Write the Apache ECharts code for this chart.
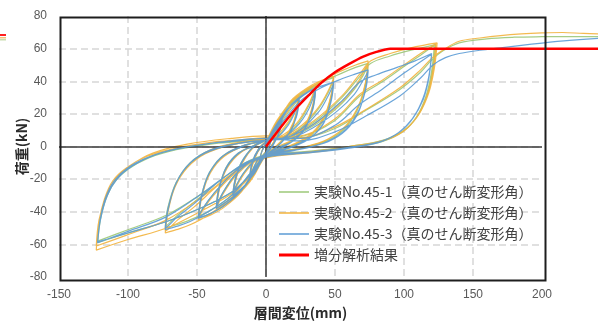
<!DOCTYPE html>
<html>
<head>
<meta charset="utf-8">
<script src="https://cdn.jsdelivr.net/npm/echarts@6/dist/echarts.min.js"></script>
<style>
  html, body { margin: 0; padding: 0; background: #ffffff; }
  #chart { width: 598px; height: 324px; }
</style>
</head>
<body>
<div id="chart"></div>
<script>
// Series names (legend order)
const seriesNames = [
  '実験No.45-1（真のせん断変形角）',
  '実験No.45-2（真のせん断変形角）',
  '実験No.45-3（真のせん断変形角）',
  '増分解析結果'
];

// Load–displacement path of specimen No.45-1 : [displacement (mm), load (kN)]
const spec1Path = [
  [0,0],[2,4],[5,8],[3,2],[0,-3],[-2,-5],[-5,-9],[-3,-3],[0,2],
  [4,9],[8,15],[12,20],[10,11],[6,3],[0,-4],[-4,-10],[-8,-16],[-12,-21],[-10,-11],[-6,-3],[0,3],
  [5,6],[10,14],[12,20],[10,10],[5,1],[0,-4],[-5,-7],[-10,-15],[-12,-21],[-10,-10],[-5,-1],[0,3],
  [5,9],[12,20],[18,26],[24,30],[22,20],[18,10],[10,2],[0,-5],[-5,-11],[-12,-21],[-18,-26],[-24,-30],[-22,-20],[-18,-10],[-10,-1],[0,4],
  [8,6],[16,14],[21,22],[24,29],[22,19],[17,9],[9,1],[0,-5],[-8,-8],[-16,-16],[-21,-23],[-24,-29],[-22,-19],[-17,-9],[-9,0],[0,4],
  [6,10],[14,22],[24,31],[36,37],[34,25],[29,13],[20,4],[10,0],[0,-5],[-6,-12],[-14,-23],[-24,-31],[-36,-38],[-34,-26],[-29,-13],[-20,-4],[-10,0],[0,4],
  [10,5],[22,13],[31,25],[36,36],[34,24],[28,12],[18,3],[0,-5],[-10,-8],[-22,-17],[-31,-28],[-36,-37],[-34,-25],[-28,-12],[-18,-3],[0,4],
  [8,13],[18,27],[30,35],[40,39.5],[49,42],[47,30],[42,17],[33,7],[20,1],[0,-5],[-8,-14],[-18,-27],[-30,-36],[-40,-41],[-49,-44],[-47,-32],[-42,-18],[-33,-7],[-20,-1],[0,4],
  [12,5],[26,12],[38,23],[45,33],[49,41],[47,29],[41,15],[30,5],[15,-1],[0,-5],[-12,-9],[-26,-18],[-38,-29],[-45,-37],[-49,-43],[-47,-31],[-41,-16],[-30,-5],[-15,1],[0,4],
  [10,14],[25,30],[40,39],[55,45],[65,48.5],[74,51],[72,38],[67,24],[58,12],[45,4],[25,-1],[0,-5],[-10,-15],[-25,-30],[-40,-39],[-55,-45],[-65,-48],[-73,-50],[-71,-38],[-66,-24],[-57,-12],[-44,-4],[-25,1],[0,4],
  [15,5],[35,13],[52,24],[64,35],[70,43],[74,50],[72,37],[66,22],[56,10],[40,2],[20,-2],[0,-5],[-15,-10],[-35,-22],[-52,-34],[-64,-42],[-70,-47],[-73,-49],[-71,-37],[-65,-22],[-55,-10],[-40,-2],[-20,2],[0,4],
  [15,6],[35,15],[55,30],[68,43],[76,51],[90,55.5],[105,59],[123,62.5],[121,47],[117,32],[110,19],[100,10],[85,4],[60,0],[30,-3],[0,-6],
  [-12,-18],[-25,-28],[-48,-38],[-72,-46],[-100,-53],[-122,-59],[-120,-45],[-116,-32],[-110,-22],[-100,-14],[-85,-7],[-65,-2],[-40,1.5],[-20,3],[0,4.5],
  [25,6],[50,16],[68,31],[84,39.5],[100,49],[112,56],[122,62],[120,46],[116,31],[109,18],[99,9],[84,3],[60,-0.5],[30,-3.5],[0,-6.5],
  [-20,-13],[-45,-28],[-72,-42],[-100,-51],[-122,-58],[-120,-44],[-115,-30],[-108,-20],[-97,-12],[-80,-5],[-55,0],[-25,3],[0,4.5],
  [25,5],[50,11],[73,22.5],[97,35],[112,45.5],[120,53],[128,58.5],[140,63.5],[160,66],[180,67],[200,67.3],[220,67.4],[245,67.3]
];

// Load–displacement path of specimen No.45-2
const spec2Path = [
  [0,0],[2,5],[5,9],[3,2.5],[0,-3],[-2,-5.5],[-5,-9.5],[-3,-3],[0,2.5],
  [4,10],[8,16],[12,21],[10,12],[6,3.5],[0,-4.5],[-4,-10.5],[-8,-17],[-12,-22],[-10,-12],[-6,-3.5],[0,3.5],
  [5,7],[10,15],[12,21],[10,11],[5,1.5],[0,-4.5],[-5,-7.5],[-10,-16],[-12,-22],[-10,-11],[-5,-1],[0,3.5],
  [5,10],[12,21],[18,27],[24,31],[22,21],[18,11],[10,2.5],[0,-5.5],[-5,-12],[-12,-22],[-18,-27],[-24,-31],[-22,-21],[-18,-11],[-10,-1.5],[0,4.5],
  [8,7],[16,15],[21,23],[24,30],[22,20],[17,10],[9,1.5],[0,-5.5],[-8,-9],[-16,-17],[-21,-24],[-24,-30],[-22,-20],[-17,-10],[-9,0],[0,4.5],
  [6,11],[14,23],[24,32],[36,38],[34,26],[29,14],[20,4.5],[10,0.5],[0,-5.5],[-6,-13],[-14,-24],[-24,-32],[-36,-39],[-34,-27],[-29,-14],[-20,-4.5],[-10,0],[0,4.5],
  [10,6],[22,14],[31,26],[36,37],[34,25],[28,13],[18,3.5],[0,-5.5],[-10,-9],[-22,-18],[-31,-29],[-36,-38],[-34,-26],[-28,-13],[-18,-3.5],[0,4.5],
  [8,14],[18,28],[30,36],[40,40.5],[49,43],[47,31],[42,18],[33,8],[20,1.5],[0,-5.5],[-8,-15],[-18,-28],[-30,-37],[-40,-42],[-49,-45],[-47,-33],[-42,-19],[-33,-8],[-20,-1],[0,4.5],
  [12,6],[26,13],[38,24],[45,34],[49,42],[47,30],[41,16],[30,5.5],[15,-0.5],[0,-5.5],[-12,-10],[-26,-19],[-38,-30],[-45,-38],[-49,-44],[-47,-32],[-41,-17],[-30,-5.5],[-15,1],[0,4.5],
  [10,15],[25,31],[40,40],[55,46.5],[65,50],[74,52.5],[72,39],[67,25],[58,13],[45,4.5],[25,-1],[0,-5.5],[-10,-16],[-25,-31],[-40,-41],[-55,-48],[-65,-51],[-73,-53],[-71,-40],[-66,-25],[-57,-13],[-44,-4.5],[-25,1],[0,4.5],
  [15,5.5],[35,14],[52,25],[64,36],[70,44.5],[74,51.5],[72,38],[66,23],[56,11],[40,2.5],[20,-2],[0,-5.5],[-15,-11],[-35,-24],[-52,-37],[-64,-45],[-70,-50],[-73,-52],[-71,-39],[-65,-23],[-55,-11],[-40,-2],[-20,2.5],[0,5],
  [15,6.5],[35,16],[55,31],[68,44.5],[76,52.5],[90,57],[105,60.5],[124,63.5],[122,48],[118,33],[111,20],[101,10.5],[86,4],[60,0],[30,-3.5],[0,-6.5],
  [-12,-19],[-25,-29],[-48,-40],[-72,-50],[-100,-57],[-123,-63.5],[-121,-46],[-117,-32],[-111,-21],[-101,-13],[-86,-6],[-65,-1],[-40,2.5],[-20,4],[0,5.5],
  [25,6.5],[50,17],[68,32],[84,40.5],[100,50],[112,57],[123,63],[121,47],[117,32],[110,19],[100,9.5],[85,3.5],[60,-0.5],[30,-4],[0,-7],
  [-20,-14],[-45,-30],[-72,-45],[-100,-54],[-123,-61],[-121,-45],[-116,-31],[-109,-20],[-98,-11.5],[-82,-4],[-57,1.5],[-25,5],[0,6.5],
  [25,5.5],[50,12],[73,23],[97,36],[112,47],[120,54],[128,59],[140,64.5],[155,66.5],[170,68],[185,69],[200,69.6],[215,69.9],[230,69.3],[245,69]
];

// Load–displacement path of specimen No.45-3
const spec3Path = [
  [0,0],[2,4],[5,8],[3,1.5],[0,-3.5],[-2,-5.5],[-5,-9],[-3,-3],[0,2],
  [4,8.5],[8,14],[12,19],[10,10],[6,2.5],[0,-4.5],[-4,-10],[-8,-16],[-12,-20],[-10,-10.5],[-6,-3],[0,3],
  [5,5.5],[10,13],[12,19],[10,9.5],[5,0.5],[0,-4.5],[-5,-7],[-10,-15],[-12,-20],[-10,-9.5],[-5,-1],[0,3],
  [5,8.5],[12,19],[18,25],[24,29],[22,19],[18,9.5],[10,1.5],[0,-5.5],[-5,-11],[-12,-20.5],[-18,-26],[-24,-30],[-22,-20],[-18,-10],[-10,-1],[0,4],
  [8,5.5],[16,13],[21,21],[24,28],[22,18],[17,8.5],[9,0.5],[0,-5.5],[-8,-8.5],[-16,-16],[-21,-23],[-24,-29],[-22,-19],[-17,-9],[-9,0],[0,4],
  [6,9.5],[14,21],[24,30],[36,36],[34,24],[29,12],[20,3.5],[10,-0.5],[0,-5.5],[-6,-12],[-14,-23],[-24,-31],[-36,-38],[-34,-26],[-29,-13],[-20,-4],[-10,0],[0,4],
  [10,4.5],[22,12],[31,23],[36,35],[34,23],[28,11],[18,2.5],[0,-5.5],[-10,-8.5],[-22,-17],[-31,-28],[-36,-37],[-34,-25],[-28,-12],[-18,-3],[0,4],
  [8,12],[18,25],[30,33],[40,37],[49,39.5],[47,28],[42,15],[33,6],[20,0.5],[0,-5.5],[-8,-14],[-18,-27],[-30,-36],[-40,-41],[-49,-44],[-47,-32],[-42,-18],[-33,-7],[-20,-1],[0,4],
  [12,4.5],[26,11],[38,21],[45,31],[49,38.5],[47,27],[41,13],[30,4],[15,-1.5],[0,-5.5],[-12,-9],[-26,-18],[-38,-29],[-45,-37],[-49,-43],[-47,-31],[-41,-16],[-30,-5],[-15,1],[0,4],
  [10,13],[25,28],[40,36],[55,41.5],[65,44.5],[74,47],[72,35],[67,21],[58,10],[45,3],[25,-1.5],[0,-5.5],[-10,-15],[-25,-30],[-40,-39],[-55,-46],[-65,-49],[-73,-51],[-71,-39],[-66,-24],[-57,-12],[-44,-4],[-25,1],[0,4],
  [15,4.5],[35,12],[52,22],[64,32],[70,40],[74,46],[72,34],[66,20],[56,9],[40,1.5],[20,-2.5],[0,-5.5],[-15,-10],[-35,-22],[-52,-35],[-64,-43],[-70,-48],[-73,-50],[-71,-38],[-65,-22],[-55,-10],[-40,-2],[-20,2],[0,4],
  [15,5.5],[35,14],[55,28],[68,39.5],[80,44],[95,48.5],[108,52.5],[120,57],[118,43],[114,30],[107,18],[97,9],[83,3],[60,-0.5],[30,-3.5],[0,-6],
  [-12,-18],[-25,-28],[-48,-38],[-72,-46],[-100,-53],[-122,-58.5],[-120,-44],[-116,-31],[-110,-21],[-100,-13],[-85,-6.5],[-65,-1.5],[-40,2],[-20,3.5],[0,5],
  [25,5],[50,13],[68,26],[84,35],[100,45],[112,52],[120,56.5],[118,42],[114,29],[106,17],[96,8.5],[82,2.5],[60,-1],[30,-4],[0,-6.5],
  [-20,-13],[-45,-28],[-72,-43],[-100,-52],[-122,-59],[-120,-45],[-115,-30],[-108,-20],[-97,-12],[-80,-5],[-55,0],[-25,3.5],[0,5],
  [25,3.5],[50,9],[73,19],[97,31],[112,42],[121,50],[130,54.5],[140,57],[155,59],[170,60.5],[185,62],[200,63.4],[220,65],[245,66.6]
];

// Incremental analysis result (skeleton curve)
const analysisX = [0, 5, 10, 16, 23, 31, 40, 50, 60, 70, 80, 90, 245];
const analysisY = [0, 5.5, 11, 17.5, 24.5, 31.5, 39, 45.5, 50.5, 55, 58, 60, 60];

// Axis ranges and tick spacing
const xRange = [-150, 200];
const xDataMax = 240;
const xStep = 50;
const yRange = [-80, 80];
const yStep = 20;

const seriesColors = ['#9cc878', '#f2b33d', '#5b9bd5', '#ff0000'];

const chart = echarts.init(document.getElementById('chart'), null, { renderer: 'canvas' });

// pixel layout of the framed plot area
const plotLeft = 59, plotTop = 16, plotWidth = 483, plotHeight = 261;
const dataWidth = plotWidth * (xDataMax - xRange[0]) / (xRange[1] - xRange[0]);

const analysisData = analysisX.map((x, i) => [x, analysisY[i]]);
const specimenPaths = [spec1Path, spec2Path, spec3Path];

const gridLineStyle = { color: '#d6d6d6', width: 1.5, type: [7, 4] };
const tickFont = { color: '#595959', fontSize: 12, fontFamily: 'Liberation Sans, Arial, sans-serif' };
const nameFont = { color: '#2b2b2b', fontSize: 14, fontWeight: 'bold', fontFamily: 'Noto Sans CJK JP, sans-serif' };

// legend line icons: thin for test data, thicker for the analysis line
const thinIcon = 'path://M0,0 L60,0 L60,3 L0,3 Z';
const thickIcon = 'path://M0,0 L30,0 L30,3 L0,3 Z';

const option = {
  animation: false,
  backgroundColor: '#ffffff',
  grid: [
    {
      left: plotLeft, top: plotTop, width: plotWidth, height: plotHeight,
      containLabel: false, outerBoundsMode: 'none',
      show: false
    },
    {
      left: plotLeft, top: plotTop, width: dataWidth, height: plotHeight,
      containLabel: false, outerBoundsMode: 'none',
      show: false
    }
  ],
  xAxis: [
    {
      gridIndex: 0, type: 'value', min: xRange[0], max: xRange[1], interval: xStep,
      name: '層間変位(mm)', nameLocation: 'middle', nameGap: 29, nameMoveOverlap: false,
      nameTextStyle: nameFont,
      axisLine: { show: false }, axisTick: { show: false },
      axisLabel: Object.assign({ margin: 12 }, tickFont),
      splitLine: { show: true, showMinLine: false, showMaxLine: false, lineStyle: gridLineStyle }
    },
    {
      gridIndex: 1, type: 'value', min: xRange[0], max: xDataMax, show: false,
      splitLine: { show: false }
    }
  ],
  yAxis: [
    {
      gridIndex: 0, type: 'value', min: yRange[0], max: yRange[1], interval: yStep,
      name: '荷重(kN)', nameLocation: 'middle', nameGap: 30, nameRotate: 90, nameMoveOverlap: false,
      nameTextStyle: nameFont,
      axisLine: { show: false }, axisTick: { show: false },
      axisLabel: Object.assign({ margin: 12 }, tickFont),
      splitLine: { show: true, showMinLine: false, showMaxLine: false, lineStyle: gridLineStyle }
    },
    {
      gridIndex: 1, type: 'value', min: yRange[0], max: yRange[1], show: false,
      splitLine: { show: false }
    }
  ],
  legend: {
    data: seriesNames.map((name, i) => ({ name: name, icon: i === 3 ? thickIcon : thinIcon })),
    orient: 'vertical',
    left: 274, top: 180,
    itemWidth: 30, itemHeight: 14, itemGap: 7,
    textStyle: { color: '#404040', fontSize: 14, fontFamily: 'Noto Sans CJK JP, sans-serif' },
    backgroundColor: 'transparent',
    selectedMode: false
  },
  graphic: [
    // frame around the plot area
    {
      type: 'rect', left: plotLeft - 1, top: plotTop - 1, z: 50, silent: true,
      shape: { width: plotWidth + 2, height: plotHeight + 2 },
      style: { fill: 'none', stroke: '#1e1e1e', lineWidth: 2 }
    },
    { type: 'rect', left: 0, top: 34, shape: { width: 6, height: 2 }, style: { fill: '#ff2020' }, silent: true },
    { type: 'rect', left: 0, top: 37, shape: { width: 6, height: 1.5 }, style: { fill: '#f4c27a' }, silent: true },
    { type: 'rect', left: 0, top: 39, shape: { width: 6, height: 1.5 }, style: { fill: '#c9dcae' }, silent: true }
  ],
  series: [
    {
      // zero axes drawn across the framed plot
      type: 'line', xAxisIndex: 0, yAxisIndex: 0, data: [], silent: true, z: 1,
      markLine: {
        silent: true, symbol: 'none', label: { show: false },
        lineStyle: { color: '#3a3a3a', width: 1.5, type: 'solid' },
        data: [{ xAxis: 0 }, { yAxis: 0 }]
      }
    }
  ].concat(specimenPaths.map((path, i) => ({
    name: seriesNames[i],
    type: 'line', xAxisIndex: 1, yAxisIndex: 1,
    data: path, symbol: 'none', smooth: 0.35, clip: true, z: 3 + i,
    lineStyle: { color: seriesColors[i], width: 1.2, opacity: 0.9 },
    itemStyle: { color: seriesColors[i] }
  }))).concat([{
    name: seriesNames[3],
    type: 'line', xAxisIndex: 1, yAxisIndex: 1,
    data: analysisData, symbol: 'none', smooth: 0.2, clip: true, z: 10,
    lineStyle: { color: seriesColors[3], width: 2.5 },
    itemStyle: { color: seriesColors[3] }
  }])
};

chart.setOption(option);
</script>
</body>
</html>
